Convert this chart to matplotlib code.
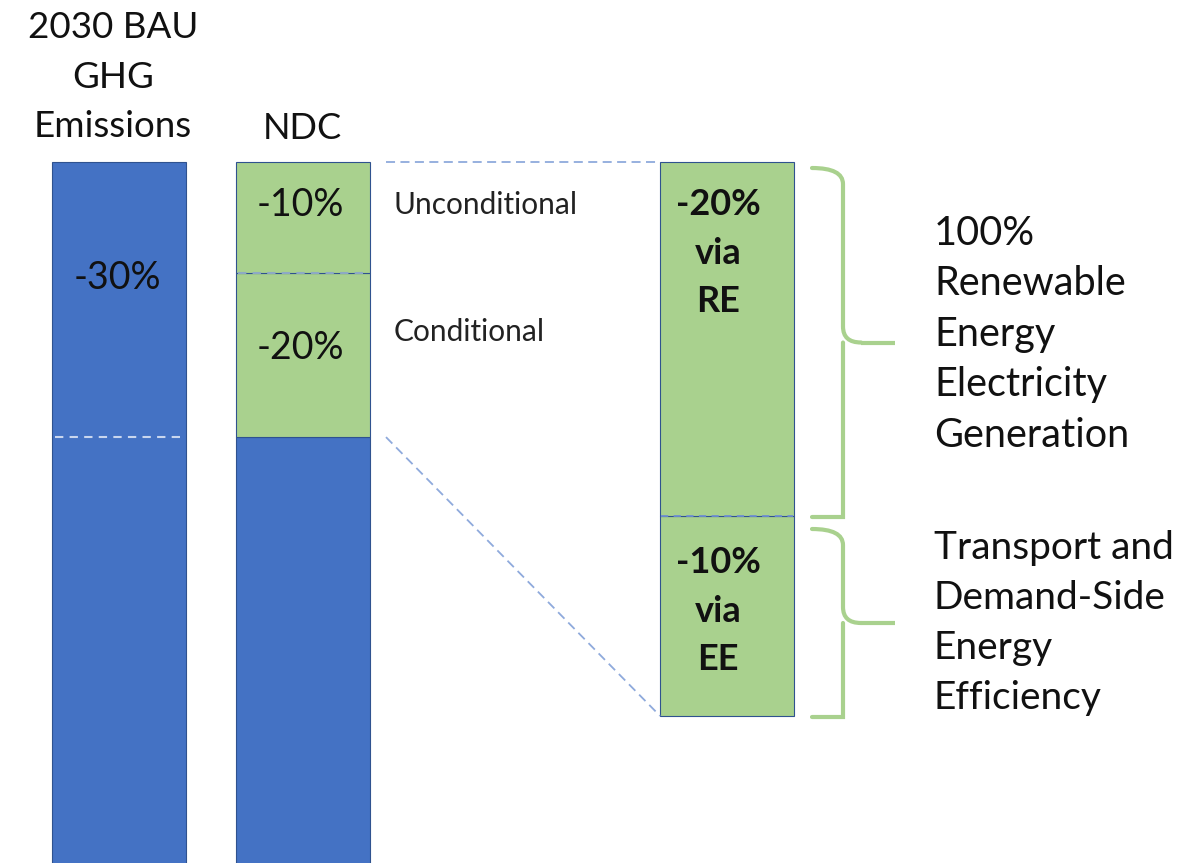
import matplotlib
matplotlib.use("Agg")
import matplotlib.pyplot as plt
from matplotlib.path import Path
from matplotlib.patches import PathPatch

plt.rcParams['font.family'] = ['Lato', 'DejaVu Sans']

# --- data (share of 2030 BAU emissions, bar heights as drawn) ---
bau_total = 100
ndc_base = 70
ndc_segments = [17.9, 12.1]          # conditional, unconditional (bottom -> top)
ndc_labels = ['-20%', '-10%']
ndc_side = ['Conditional', 'Unconditional']
zoom_segments = [21.8, 38.6]         # EE, RE (bottom -> top)
zoom_labels = ['-10%\nvia\nEE', '-20%\nvia\nRE']
brace_labels = ['Transport and\nDemand-Side\nEnergy\nEfficiency',
                '100%\nRenewable\nEnergy\nElectricity\nGeneration']
bau_title = '2030 BAU\nGHG\nEmissions'
ndc_title = 'NDC'
bau_cut_label = '-30%'

blue = '#4472C4'
green = '#A9D18E'
edge = '#2F528F'
dash_col = '#8FAADC'

# layout: x in pixels, y in % of BAU (9.17 px per unit, BAU top at 162 px)
PX = 9.17
def ypx(p):
    return bau_total - (p - 162) / PX

fig = plt.figure(figsize=(11.95, 8.63), dpi=100)
ax = fig.add_axes([0, 0, 1, 1])
ax.set_xlim(0, 1195)
ax.set_ylim(ypx(863), ypx(0))
ax.axis('off')

x_bau, x_ndc, x_zoom, w = 119, 303, 727, 134

# BAU bar
ax.bar(x_bau, bau_total, w, color=blue, edgecolor=edge, linewidth=0.8)
ax.plot([x_bau - w / 2 + 3, x_bau + w / 2 - 3], [ndc_base, ndc_base],
        ls=(0, (4, 3)), color='#C9D6EE', lw=1.5)

# NDC bar
ax.bar(x_ndc, ndc_base, w, color=blue, edgecolor=edge, linewidth=0.8)
bottom = ndc_base
for h in ndc_segments:
    ax.bar(x_ndc, h, w, bottom=bottom, color=green, edgecolor=edge, linewidth=0.8)
    bottom += h
ax.plot([x_ndc - w / 2 + 2, x_ndc + w / 2 - 2], [ndc_base + ndc_segments[0]] * 2,
        ls=(0, (4, 3)), color='#8DA9C4', lw=1.5)

# zoomed bar
zbottom = bau_total - sum(zoom_segments)
b = zbottom
for h in zoom_segments:
    ax.bar(x_zoom, h, w, bottom=b, color=green, edgecolor=edge, linewidth=0.8)
    b += h
ax.plot([x_zoom - w / 2 + 1, x_zoom + w / 2 - 1], [zbottom + zoom_segments[0]] * 2,
        ls=(0, (4, 3)), color='#6F8FD0', lw=1.3, zorder=3)

# connectors
ax.plot([386, x_zoom - w / 2], [bau_total, bau_total], ls=(0, (5, 3)), color=dash_col, lw=1.3)
ax.plot([386, x_zoom - w / 2], [ndc_base, zbottom], ls=(0, (5, 3)), color=dash_col, lw=1.3)

# curly braces
def brace(y_top, y_bot, x0=812, x1=843, xt=895):
    r = 16 / PX
    ym = (y_top + y_bot) / 2
    verts = [(x0, y_top), (x1, y_top), (x1, y_top - r),
             (x1, ym + r), (x1, ym), (x1 + 18, ym),
             (x1, ym), (x1, ym - r),
             (x1, y_bot + r), (x1, y_bot), (x0, y_bot)]
    codes = [Path.MOVETO, Path.CURVE3, Path.CURVE3,
             Path.LINETO, Path.CURVE3, Path.CURVE3,
             Path.MOVETO, Path.CURVE3, Path.CURVE3,
             Path.LINETO, Path.CURVE3]
    verts.append((x0, y_bot))
    codes.append(Path.CURVE3)
    ax.add_patch(PathPatch(Path(verts, codes), fill=False, ec=green, lw=3,
                           capstyle='round'))
    ax.plot([x1 + 18, xt], [ym, ym], color=green, lw=3, solid_capstyle='butt')

brace(ypx(168), ypx(517))
brace(ypx(529), ypx(717))

# texts
ax.text(113, ypx(77), bau_title, ha='center', va='center', fontsize=26.5,
        linespacing=1.62, color='#111111')
ax.text(302, ypx(128), ndc_title, ha='center', va='center', fontsize=26, color='#111111')
ax.text(117, ypx(278), bau_cut_label, ha='center', va='center', fontsize=27, color='#111111')
for lab, ypix in zip(ndc_labels, [348, 205]):
    ax.text(300, ypx(ypix), lab, ha='center', va='center', fontsize=27, color='#111111')
for lab, ypix in zip(ndc_side, [332, 205]):
    ax.text(394, ypx(ypix), lab, ha='left', va='center', fontsize=21.5, color='#222222')
for lab, ypix in zip(zoom_labels, [611, 253]):
    ax.text(718, ypx(ypix), lab, ha='center', va='center', fontsize=26,
            fontweight='bold', linespacing=1.58, color='#111111')
for lab, ypix, fs, ls in zip(brace_labels, [623, 334], [28, 28.5], [1.49, 1.45]):
    ax.text(934, ypx(ypix), lab, ha='left', va='center', fontsize=fs,
            linespacing=ls, color='#111111')

fig.savefig('out.png', dpi=100)
